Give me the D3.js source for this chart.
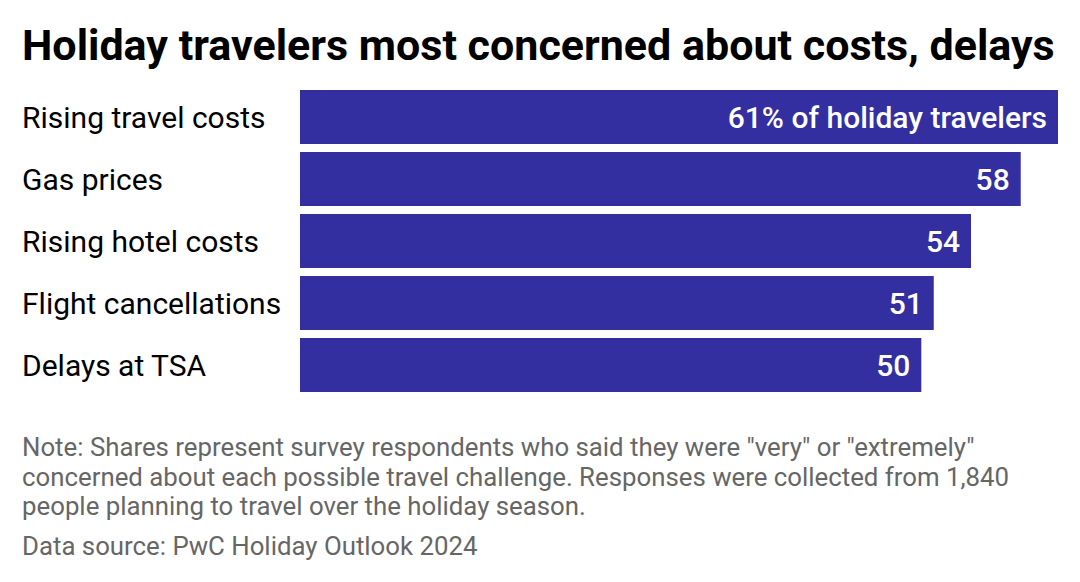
<!DOCTYPE html>
<html>
<head>
<meta charset="UTF-8">
<title>Holiday travelers</title>
<script src="https://cdn.jsdelivr.net/npm/d3@7"></script>
<style type="text/css">
	body { margin:0; background:white; font-family:Roboto, sans-serif; }
</style>
</head>
<body>
<script type="text/javascript">

// data
var categories = ['Rising travel costs', 'Gas prices', 'Rising hotel costs', 'Flight cancellations', 'Delays at TSA'];
var values = [61, 58, 54, 51, 50];
var valueLabels = ['61% of holiday travelers', '58', '54', '51', '50'];
var noteLines = [
	'Note: Shares represent survey respondents who said they were "very" or "extremely"',
	'concerned about each possible travel challenge. Responses were collected from 1,840',
	'people planning to travel over the holiday season.'
];
var source = 'Data source: PwC Holiday Outlook 2024';

var large = 1080, haut = 582,
 barCol = '#342fa0';

var svg = d3.select('body').append('svg')
	.attr('width', large)
	.attr('height', haut);

svg.append('text')
	.attr('x', 22).attr('y', 60)
	.attr('font-size', 43).attr('font-weight', 700)
	.attr('fill', '#000')
	.text('Holiday travelers most concerned about costs, delays');

var x = d3.scaleLinear().domain([0, 61]).range([300, 1058]);
var y = d3.scaleBand().domain(categories).range([90, 392]).paddingInner(8/62).paddingOuter(0);

var rows = svg.selectAll('.row').data(categories).enter().append('g')
	.attr('class', 'row');

rows.append('rect')
	.attr('x', x(0))
	.attr('y', function(d){ return y(d); })
	.attr('width', function(d, i){ return x(values[i]) - x(0); })
	.attr('height', y.bandwidth())
	.attr('fill', barCol);

rows.append('text')
	.attr('x', 22)
	.attr('y', function(d){ return y(d) + y.bandwidth()/2; })
	.attr('dy', '0.35em')
	.attr('font-size', 30)
	.attr('fill', '#000')
	.text(function(d){ return d; });

rows.append('text')
	.attr('x', function(d, i){ return x(values[i]) - 11; })
	.attr('y', function(d){ return y(d) + y.bandwidth()/2; })
	.attr('dy', '0.35em')
	.attr('text-anchor', 'end')
	.attr('font-size', 30)
	.attr('font-weight', 500)
	.attr('fill', '#fff')
	.text(function(d, i){ return valueLabels[i]; });

svg.selectAll('.note').data(noteLines).enter().append('text')
	.attr('class', 'note')
	.attr('x', 22)
	.attr('y', function(d, i){ return 456 + i*29.5; })
	.attr('font-size', 25.8)
	.attr('fill', '#666')
	.text(function(d){ return d; });

svg.append('text')
	.attr('x', 22).attr('y', 555)
	.attr('font-size', 25.8)
	.attr('fill', '#666')
	.text(source);

</script>
</body>
</html>
